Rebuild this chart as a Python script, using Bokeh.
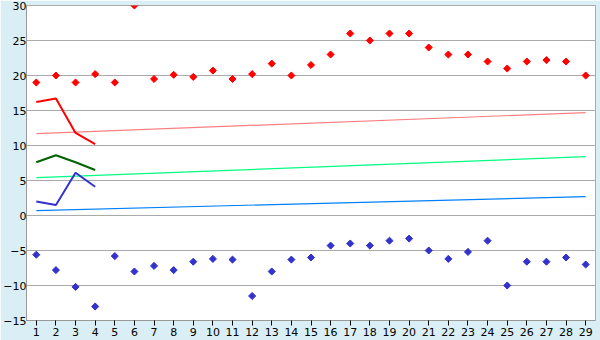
import math
from bokeh.plotting import figure
from bokeh.models import Range1d, FixedTicker
from bokeh.embed import file_html
from bokeh.resources import INLINE

days = list(range(1, 30))
max_temp = [19, 20, 19, 20.2, 19, 30, 19.5, 20.1, 19.8, 20.7, 19.5, 20.2, 21.7, 20, 21.5,
            23, 26, 25, 26, 26, 24, 23, 23, 22, 21, 22, 22.2, 22, 20]
min_temp = [-5.6, -7.8, -10.2, -13, -5.8, -8, -7.2, -7.8, -6.6, -6.2, -6.3, -11.5, -8, -6.3, -6,
            -4.3, -4, -4.3, -3.6, -3.3, -5, -6.2, -5.2, -3.6, -10, -6.6, -6.6, -6, -7]
short_days = [1, 2, 3, 4]
red_line = [16.2, 16.7, 11.8, 10.2]
green_line = [7.6, 8.6, 7.6, 6.5]
blue_line = [2.0, 1.5, 6.1, 4.1]
trend_x = [1, 29]
trend_red = [11.7, 14.7]
trend_green = [5.4, 8.4]
trend_blue = [0.7, 2.7]

p = figure(width=600, height=340, output_backend="svg", toolbar_location=None,
           x_range=Range1d(0.5, 29.5), y_range=Range1d(-15, 30),
           min_border_left=0, min_border_right=5, min_border_top=5, min_border_bottom=20)
p.border_fill_color = "#DAEFF5"
p.background_fill_color = "white"
p.outline_line_color = "#AAAAAA"
p.outline_line_width = 1

p.xaxis.ticker = FixedTicker(ticks=days)
p.yaxis.ticker = FixedTicker(ticks=list(range(-15, 31, 5)))
p.xgrid.grid_line_color = None
p.ygrid.grid_line_color = "#AAAAAA"
p.ygrid.grid_line_width = 1

for ax in (p.xaxis, p.yaxis):
    ax.major_label_text_font = "DejaVu Sans"
    ax.major_label_text_font_size = "11px"
    ax.major_label_text_color = "#000000"
    ax.minor_tick_line_color = None
    ax.minor_tick_out = 0
    ax.minor_tick_in = 0
    ax.axis_line_color = "#999999"
p.xaxis.major_tick_line_color = "#000000"
p.xaxis.major_tick_out = 5
p.xaxis.major_tick_in = 0
p.xaxis.major_label_standoff = 2
p.yaxis.major_tick_line_color = None
p.yaxis.major_tick_out = 0
p.yaxis.major_tick_in = 0
p.yaxis.major_label_standoff = 0

# trend lines
p.line(trend_x, trend_red, line_color="#FF8080", line_width=1.2)
p.line(trend_x, trend_green, line_color="#00FF80", line_width=1.2)
p.line(trend_x, trend_blue, line_color="#0080FF", line_width=1.2)

# short lines
p.line(short_days, red_line, line_color="#FF0000", line_width=2)
p.line(short_days, green_line, line_color="#006400", line_width=2)
p.line(short_days, blue_line, line_color="#3333CC", line_width=2)

# points
p.scatter(days, max_temp, marker="square", size=5, angle=math.pi / 4,
          fill_color="#FF0000", line_color="#FF0000")
p.scatter(days, min_temp, marker="square", size=5, angle=math.pi / 4,
          fill_color="#3333CC", line_color="#3333CC")

open("out.html", "w").write(file_html(p, INLINE))
